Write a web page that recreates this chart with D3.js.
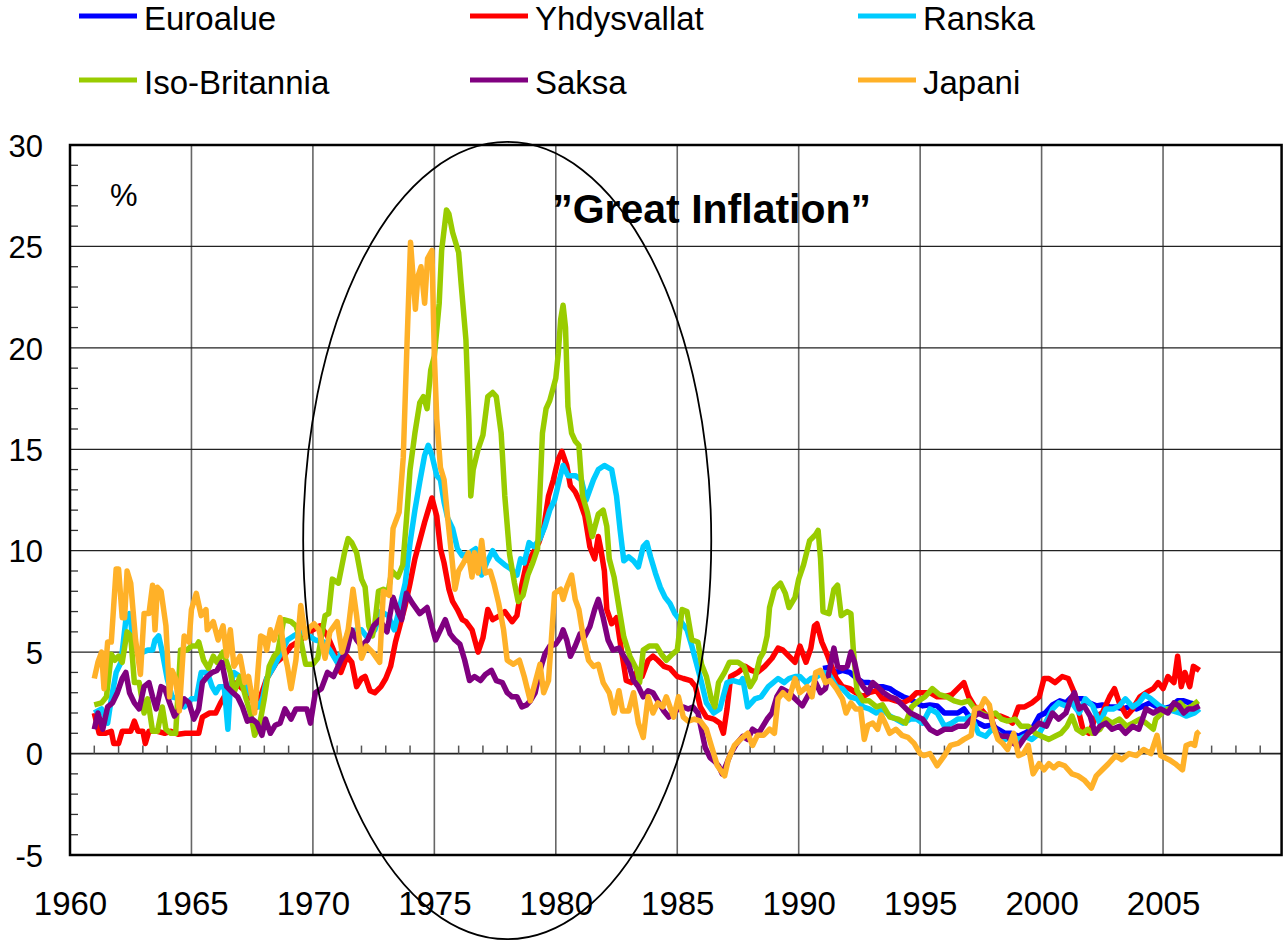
<!DOCTYPE html>
<html>
<head>
<meta charset="utf-8">
<script src="https://d3js.org/d3.v7.min.js"></script>
<style>
  body { margin: 0; background: #fff; }
  svg text { font-family: "Liberation Sans", Arial, sans-serif; fill: #000; }
</style>
</head>
<body>
<svg id="chart" width="1285" height="947"></svg>
<script>
// legend order = drawing order (last one on top)
var names = ["Euroalue", "Yhdysvallat", "Ranska", "Iso-Britannia", "Saksa", "Japani"];
var colors = ["#0000ff", "#ff0000", "#00ccff", "#99cc00", "#800080", "#ffb128"];

var xTicks = [1960, 1965, 1970, 1975, 1980, 1985, 1990, 1995, 2000, 2005];
var yTicks = [-5, 0, 5, 10, 15, 20, 25, 30];

// [year, inflation %]
var euroalue = [[1991.0,4.2],[1991.25,4.25],[1991.55,4.0],[1991.8,4.1],[1992.1,4.0],[1992.4,3.7],[1992.65,3.5],[1992.9,3.5],[1993.2,3.3],[1993.45,3.3],[1993.75,3.2],[1994.0,3.0],[1994.3,2.8],[1994.55,2.7],[1994.85,2.5],[1995.1,2.35],[1995.4,2.4],[1995.7,2.35],[1996.0,2.0],[1996.3,2.0],[1996.55,2.0],[1996.8,2.2],[1997.1,1.7],[1997.4,1.5],[1997.65,1.35],[1997.95,1.4],[1998.2,1.2],[1998.5,1.0],[1998.75,1.0],[1999.05,0.85],[1999.3,1.0],[1999.6,1.2],[1999.9,1.85],[2000.15,2.0],[2000.45,2.4],[2000.75,2.6],[2001.0,2.5],[2001.2,2.75],[2001.4,2.7],[2001.7,2.7],[2001.95,2.5],[2002.25,2.35],[2002.5,2.4],[2002.8,2.3],[2003.05,2.3],[2003.35,2.2],[2003.6,2.3],[2003.9,2.2],[2004.2,2.35],[2004.45,2.5],[2004.75,2.3],[2005.0,2.2],[2005.3,2.3],[2005.6,2.6],[2005.85,2.6],[2006.1,2.5],[2006.45,2.4]];

var yhdysvallat = [[1961.0,2.0],[1961.2,1.0],[1961.45,1.0],[1961.7,1.1],[1961.8,0.5],[1962.0,0.5],[1962.15,1.1],[1962.5,1.1],[1962.65,1.6],[1962.8,1.1],[1963.0,1.1],[1963.1,0.5],[1963.25,1.1],[1963.6,1.1],[1963.9,1.0],[1964.15,1.1],[1964.45,0.95],[1964.75,1.0],[1965.1,1.0],[1965.3,1.0],[1965.45,1.8],[1965.75,2.0],[1966.0,2.0],[1966.2,2.5],[1966.45,3.0],[1966.75,3.5],[1967.0,3.3],[1967.3,3.0],[1967.7,2.3],[1968.1,3.7],[1968.5,4.5],[1968.8,4.8],[1969.1,5.3],[1969.5,5.6],[1969.85,6.0],[1970.3,6.3],[1970.6,5.8],[1970.85,5.1],[1971.15,4.0],[1971.4,4.8],[1971.6,4.5],[1971.8,3.3],[1972.0,3.7],[1972.15,3.8],[1972.35,3.1],[1972.55,3.0],[1972.8,3.3],[1973.0,3.7],[1973.2,4.3],[1973.4,5.5],[1973.6,6.4],[1973.8,7.3],[1974.0,8.4],[1974.2,9.6],[1974.4,10.5],[1974.6,11.4],[1974.75,12.0],[1974.9,12.6],[1975.1,11.7],[1975.25,10.1],[1975.4,9.4],[1975.6,8.1],[1975.75,7.5],[1975.95,7.1],[1976.15,6.6],[1976.3,6.5],[1976.55,6.1],[1976.8,5.0],[1977.0,5.7],[1977.2,7.1],[1977.4,6.6],[1977.7,6.8],[1977.9,7.0],[1978.2,6.5],[1978.4,6.8],[1978.6,8.3],[1978.8,9.4],[1979.0,9.75],[1979.3,10.4],[1979.5,11.1],[1979.7,12.7],[1979.9,13.5],[1980.1,14.5],[1980.25,14.9],[1980.45,14.2],[1980.6,13.2],[1980.8,12.9],[1981.0,12.4],[1981.2,11.7],[1981.4,10.2],[1981.6,9.6],[1981.75,10.7],[1981.85,10.1],[1982.0,9.0],[1982.1,7.1],[1982.3,6.4],[1982.5,6.7],[1982.7,5.1],[1982.9,3.6],[1983.1,3.5],[1983.35,4.1],[1983.55,3.8],[1983.8,4.6],[1984.0,4.8],[1984.2,4.6],[1984.45,4.3],[1984.7,4.2],[1985.0,3.8],[1985.25,3.7],[1985.55,3.6],[1985.75,3.3],[1985.95,2.3],[1986.2,1.8],[1986.5,1.7],[1986.75,1.5],[1986.9,1.0],[1987.05,2.2],[1987.2,3.8],[1987.5,4.0],[1987.8,4.3],[1988.05,4.1],[1988.3,4.0],[1988.6,4.3],[1988.9,4.7],[1989.15,5.2],[1989.35,5.1],[1989.6,4.8],[1989.85,4.5],[1990.05,5.3],[1990.3,4.5],[1990.5,5.2],[1990.65,6.3],[1990.75,6.4],[1990.95,5.5],[1991.2,4.8],[1991.35,4.3],[1991.55,3.7],[1991.8,3.3],[1992.1,3.2],[1992.35,3.0],[1992.65,2.8],[1992.9,3.0],[1993.2,3.1],[1993.45,2.7],[1993.75,2.7],[1994.0,2.6],[1994.3,2.5],[1994.6,2.7],[1994.85,3.0],[1995.15,3.0],[1995.4,3.0],[1995.7,2.8],[1996.0,2.8],[1996.3,2.9],[1996.55,3.2],[1996.8,3.5],[1997.0,2.8],[1997.25,2.3],[1997.5,2.2],[1997.75,1.85],[1998.05,1.85],[1998.3,1.85],[1998.6,1.7],[1998.8,1.5],[1999.05,2.3],[1999.3,2.3],[1999.6,2.5],[1999.9,2.8],[2000.1,3.7],[2000.3,3.7],[2000.55,3.5],[2000.85,3.8],[2001.1,3.7],[2001.35,3.0],[2001.5,2.2],[2001.7,1.2],[2001.95,1.0],[2002.25,1.85],[2002.5,2.0],[2002.8,2.8],[2003.0,3.2],[2003.2,2.5],[2003.5,1.85],[2003.75,2.2],[2004.05,2.8],[2004.3,3.0],[2004.6,3.2],[2004.8,3.5],[2005.0,3.2],[2005.2,3.8],[2005.45,3.5],[2005.6,4.8],[2005.75,3.3],[2005.9,4.0],[2006.1,3.3],[2006.25,4.3],[2006.5,4.1]];

var ranska = [[1961.0,2.0],[1961.3,2.2],[1961.55,1.5],[1961.7,2.7],[1961.9,4.0],[1962.1,4.5],[1962.3,6.6],[1962.45,6.9],[1962.6,5.6],[1962.8,5.0],[1963.0,5.0],[1963.2,5.1],[1963.4,5.1],[1963.5,5.6],[1963.65,5.8],[1963.8,5.0],[1964.0,3.7],[1964.2,2.8],[1964.5,2.7],[1964.7,2.3],[1965.0,2.7],[1965.2,2.7],[1965.4,4.0],[1965.65,4.0],[1965.85,3.3],[1966.0,3.0],[1966.15,3.3],[1966.35,3.3],[1966.5,1.2],[1966.6,3.3],[1966.75,4.0],[1967.0,3.8],[1967.25,3.3],[1967.5,2.8],[1967.8,2.3],[1967.95,2.8],[1968.1,3.7],[1968.4,4.3],[1968.7,5.0],[1968.95,5.6],[1969.2,5.8],[1969.5,6.0],[1969.85,5.8],[1970.1,5.6],[1970.45,5.5],[1970.7,5.1],[1971.0,4.5],[1971.25,5.2],[1971.45,6.0],[1971.8,6.1],[1972.0,6.1],[1972.25,5.7],[1972.55,6.1],[1972.8,7.0],[1973.1,6.8],[1973.35,6.1],[1973.55,7.1],[1973.8,8.4],[1974.0,10.4],[1974.2,12.0],[1974.4,13.4],[1974.6,14.7],[1974.75,15.2],[1974.9,14.7],[1975.1,13.7],[1975.25,13.5],[1975.4,12.4],[1975.55,11.6],[1975.75,11.1],[1975.95,10.1],[1976.15,9.75],[1976.45,9.9],[1976.7,10.1],[1976.95,8.8],[1977.15,9.4],[1977.4,10.0],[1977.6,9.6],[1977.9,9.3],[1978.15,9.1],[1978.4,8.8],[1978.55,9.6],[1978.7,9.4],[1978.9,10.4],[1979.1,10.2],[1979.35,10.6],[1979.55,11.2],[1979.75,12.0],[1979.95,12.5],[1980.15,13.5],[1980.3,14.2],[1980.5,13.7],[1980.8,13.7],[1981.05,13.5],[1981.25,12.5],[1981.55,13.5],[1981.75,14.0],[1982.0,14.2],[1982.3,14.0],[1982.5,12.7],[1982.65,11.0],[1982.8,9.5],[1983.0,9.7],[1983.2,9.5],[1983.4,9.2],[1983.6,10.2],[1983.75,10.4],[1983.9,9.7],[1984.1,8.9],[1984.3,8.2],[1984.5,7.7],[1984.7,7.4],[1984.9,6.9],[1985.1,6.6],[1985.4,6.1],[1985.6,5.3],[1985.8,4.4],[1986.0,3.5],[1986.2,2.5],[1986.5,2.0],[1986.75,2.2],[1987.05,3.5],[1987.3,3.6],[1987.6,3.5],[1987.7,3.7],[1987.9,2.3],[1988.2,2.7],[1988.45,2.8],[1988.75,3.3],[1988.95,3.5],[1989.15,3.7],[1989.4,3.5],[1989.6,3.7],[1989.85,3.8],[1990.05,3.8],[1990.3,3.5],[1990.5,3.7],[1990.7,3.75],[1991.0,4.0],[1991.25,3.9],[1991.55,3.3],[1991.8,3.2],[1992.1,2.8],[1992.4,2.7],[1992.65,2.3],[1992.9,2.2],[1993.2,2.0],[1993.45,2.2],[1993.75,1.85],[1994.0,1.7],[1994.3,1.5],[1994.6,1.7],[1994.85,1.7],[1995.1,1.5],[1995.4,2.2],[1995.7,2.0],[1996.0,1.35],[1996.3,1.5],[1996.55,1.7],[1996.85,1.7],[1997.1,1.85],[1997.4,1.0],[1997.7,0.85],[1997.95,1.2],[1998.2,1.0],[1998.5,0.7],[1998.8,0.85],[1999.05,0.7],[1999.3,0.85],[1999.6,0.7],[1999.9,1.0],[2000.15,1.5],[2000.45,2.2],[2000.7,2.5],[2001.0,2.35],[2001.25,2.5],[2001.55,2.0],[2001.8,2.7],[2002.1,2.35],[2002.4,1.5],[2002.65,2.2],[2002.95,2.2],[2003.2,2.35],[2003.45,2.7],[2003.75,2.3],[2004.0,2.5],[2004.25,2.9],[2004.5,2.7],[2004.85,2.35],[2005.15,2.2],[2005.4,2.1],[2005.7,2.0],[2005.95,1.85],[2006.3,2.0],[2006.5,2.2]];

var isoBritannia = [[1961.0,2.4],[1961.3,2.5],[1961.5,2.8],[1961.7,4.9],[1961.85,4.6],[1962.0,4.8],[1962.15,4.5],[1962.35,6.0],[1962.5,5.8],[1962.65,3.5],[1962.85,3.5],[1963.05,2.0],[1963.2,2.7],[1963.4,1.1],[1963.6,1.1],[1963.8,2.3],[1963.95,1.2],[1964.15,1.0],[1964.35,1.0],[1964.55,5.1],[1964.8,5.1],[1965.0,5.3],[1965.2,5.3],[1965.3,5.5],[1965.5,4.6],[1965.7,4.2],[1965.9,4.8],[1966.05,4.5],[1966.3,5.0],[1966.6,4.0],[1966.75,3.0],[1967.0,3.8],[1967.25,2.7],[1967.45,1.9],[1967.6,0.9],[1967.8,1.4],[1968.0,2.7],[1968.2,4.3],[1968.4,4.8],[1968.55,5.0],[1968.8,6.6],[1969.1,6.5],[1969.3,6.3],[1969.5,5.6],[1969.7,4.4],[1970.0,4.4],[1970.2,4.7],[1970.5,6.8],[1970.65,6.9],[1970.8,8.6],[1971.05,8.4],[1971.3,9.9],[1971.45,10.6],[1971.6,10.4],[1971.8,9.9],[1972.0,8.6],[1972.15,8.2],[1972.3,6.3],[1972.45,5.8],[1972.55,6.4],[1972.7,8.0],[1972.9,8.1],[1973.1,8.0],[1973.25,9.0],[1973.5,8.7],[1973.7,9.3],[1973.85,11.5],[1974.0,14.0],[1974.2,15.8],[1974.4,17.3],[1974.55,17.6],[1974.7,17.0],[1974.85,18.9],[1975.0,19.6],[1975.2,22.2],[1975.3,24.8],[1975.5,26.8],[1975.6,26.6],[1975.75,25.7],[1976.0,24.7],[1976.1,23.2],[1976.3,20.4],[1976.42,16.5],[1976.5,12.7],[1976.6,14.0],[1976.8,15.0],[1977.0,15.7],[1977.2,17.6],[1977.4,17.8],[1977.55,17.6],[1977.75,15.8],[1977.9,12.7],[1978.1,9.8],[1978.3,8.4],[1978.45,7.5],[1978.65,7.8],[1978.85,8.8],[1979.05,9.4],[1979.25,10.1],[1979.45,15.8],[1979.6,17.0],[1979.75,17.4],[1980.0,18.5],[1980.1,19.7],[1980.2,21.4],[1980.3,22.1],[1980.4,21.0],[1980.5,17.1],[1980.65,15.8],[1980.8,15.4],[1980.95,15.2],[1981.1,12.7],[1981.3,11.9],[1981.5,10.7],[1981.75,11.8],[1981.95,12.0],[1982.1,11.2],[1982.2,9.6],[1982.4,8.7],[1982.6,7.2],[1982.8,5.75],[1983.05,4.8],[1983.35,4.1],[1983.45,3.5],[1983.6,5.1],[1983.85,5.3],[1984.15,5.3],[1984.35,4.9],[1984.55,4.6],[1984.8,4.9],[1985.0,5.1],[1985.2,7.1],[1985.4,7.0],[1985.6,5.6],[1985.85,5.5],[1986.0,4.4],[1986.2,3.8],[1986.4,2.7],[1986.55,2.3],[1986.7,3.5],[1986.95,4.0],[1987.15,4.5],[1987.5,4.5],[1987.75,4.3],[1988.0,3.3],[1988.2,3.7],[1988.4,4.7],[1988.55,5.0],[1988.7,5.8],[1988.8,7.2],[1989.0,8.1],[1989.25,8.4],[1989.45,7.9],[1989.6,7.2],[1989.85,7.7],[1990.0,8.6],[1990.2,9.3],[1990.45,10.5],[1990.7,10.8],[1990.8,11.0],[1990.9,9.6],[1991.0,7.0],[1991.25,6.9],[1991.45,8.1],[1991.6,8.3],[1991.75,6.8],[1992.0,7.0],[1992.15,6.9],[1992.25,5.1],[1992.4,3.1],[1992.65,2.6],[1992.9,2.6],[1993.2,2.3],[1993.45,2.4],[1993.75,1.8],[1994.1,1.7],[1994.4,1.5],[1994.65,2.3],[1994.95,2.6],[1995.2,2.8],[1995.5,3.2],[1995.8,2.9],[1996.1,2.8],[1996.4,2.6],[1996.7,2.5],[1997.0,2.6],[1997.25,2.2],[1997.5,2.0],[1997.8,1.85],[1998.1,2.0],[1998.35,1.7],[1998.6,1.6],[1998.9,1.7],[1999.15,1.35],[1999.45,1.35],[1999.75,1.0],[2000.0,0.85],[2000.3,0.7],[2000.55,0.85],[2000.8,1.0],[2001.05,1.35],[2001.25,1.85],[2001.45,1.2],[2001.7,1.0],[2001.9,1.2],[2002.1,1.0],[2002.4,1.2],[2002.65,1.7],[2002.9,1.5],[2003.2,1.7],[2003.5,1.35],[2003.75,1.5],[2004.05,1.7],[2004.3,1.5],[2004.6,1.2],[2004.7,1.7],[2004.95,2.0],[2005.2,2.2],[2005.45,2.2],[2005.7,2.5],[2005.95,2.2],[2006.2,2.35],[2006.45,2.6]];

var saksa = [[1961.0,1.2],[1961.15,2.0],[1961.35,1.2],[1961.55,2.3],[1961.75,2.5],[1961.95,3.0],[1962.15,3.7],[1962.3,4.0],[1962.45,3.0],[1962.65,2.5],[1962.85,2.2],[1963.05,3.3],[1963.25,3.5],[1963.4,2.8],[1963.55,2.2],[1963.75,3.3],[1963.9,3.2],[1964.1,2.5],[1964.3,1.85],[1964.5,2.2],[1964.7,2.7],[1964.9,2.5],[1965.1,1.7],[1965.3,2.2],[1965.45,3.5],[1965.65,3.8],[1965.85,4.0],[1966.05,4.1],[1966.25,4.5],[1966.45,3.3],[1966.7,3.0],[1966.9,2.8],[1967.1,2.3],[1967.3,1.6],[1967.5,1.7],[1967.7,1.5],[1967.9,0.9],[1968.05,1.7],[1968.25,1.0],[1968.45,1.4],[1968.65,1.5],[1968.85,2.2],[1969.1,1.7],[1969.3,2.2],[1969.55,2.2],[1969.75,2.2],[1969.9,1.5],[1970.1,3.0],[1970.35,3.2],[1970.6,4.0],[1970.85,3.8],[1971.15,4.6],[1971.4,5.1],[1971.6,6.1],[1971.8,5.6],[1972.0,5.3],[1972.25,5.6],[1972.5,6.3],[1972.75,6.6],[1973.05,6.0],[1973.3,7.7],[1973.5,7.0],[1973.65,6.6],[1973.85,7.9],[1974.1,7.4],[1974.4,6.9],[1974.7,7.2],[1974.9,6.25],[1975.05,5.6],[1975.25,6.1],[1975.45,6.6],[1975.65,5.9],[1975.85,5.6],[1976.05,5.4],[1976.25,4.6],[1976.45,3.6],[1976.65,3.8],[1976.9,3.6],[1977.1,3.9],[1977.35,4.1],[1977.55,3.6],[1977.8,3.5],[1978.0,3.0],[1978.2,2.8],[1978.4,2.8],[1978.6,2.3],[1978.8,2.4],[1978.95,2.6],[1979.15,3.0],[1979.35,4.1],[1979.55,4.9],[1979.75,5.3],[1980.0,5.4],[1980.2,5.75],[1980.3,6.1],[1980.45,5.6],[1980.6,4.8],[1980.8,5.3],[1981.0,5.9],[1981.2,5.8],[1981.4,6.25],[1981.6,7.1],[1981.75,7.6],[1981.95,6.7],[1982.15,5.6],[1982.35,5.1],[1982.6,5.2],[1982.8,4.8],[1983.0,4.4],[1983.2,3.6],[1983.4,3.3],[1983.6,2.8],[1983.8,3.1],[1984.0,3.0],[1984.2,2.6],[1984.45,2.1],[1984.65,1.8],[1984.85,2.0],[1985.05,2.2],[1985.25,2.3],[1985.45,2.2],[1985.65,2.3],[1985.85,2.0],[1986.0,1.15],[1986.15,0.3],[1986.35,-0.2],[1986.55,-0.4],[1986.7,-0.6],[1986.85,-1.0],[1987.0,-0.6],[1987.2,0.0],[1987.45,0.5],[1987.7,0.85],[1987.9,0.7],[1988.1,1.2],[1988.35,1.0],[1988.7,1.7],[1988.9,2.0],[1989.1,2.8],[1989.3,3.2],[1989.6,3.0],[1989.85,2.7],[1990.15,2.35],[1990.45,3.0],[1990.7,3.5],[1990.9,3.0],[1991.1,3.2],[1991.3,4.3],[1991.45,5.2],[1991.6,4.3],[1991.8,4.2],[1992.0,4.3],[1992.15,5.0],[1992.3,4.5],[1992.45,3.7],[1992.65,3.3],[1992.85,3.0],[1993.05,3.5],[1993.25,3.3],[1993.5,3.0],[1993.75,2.8],[1994.0,2.7],[1994.3,2.35],[1994.6,2.0],[1994.85,1.85],[1995.1,1.7],[1995.4,1.2],[1995.7,1.0],[1996.0,1.2],[1996.3,1.2],[1996.55,1.35],[1996.85,1.35],[1997.1,1.7],[1997.4,2.0],[1997.65,1.85],[1997.9,1.8],[1998.15,1.0],[1998.35,0.85],[1998.6,0.85],[1998.85,0.5],[1999.05,0.35],[1999.25,0.7],[1999.45,1.0],[1999.65,1.2],[1999.9,1.5],[2000.2,1.35],[2000.45,2.0],[2000.7,1.7],[2001.0,2.0],[2001.2,2.7],[2001.35,3.0],[2001.55,2.2],[2001.75,2.35],[2002.0,1.85],[2002.2,1.0],[2002.4,1.35],[2002.65,1.5],[2002.9,1.2],[2003.2,1.35],[2003.45,1.0],[2003.75,1.35],[2004.0,1.2],[2004.3,2.2],[2004.6,2.0],[2004.9,2.2],[2005.2,2.0],[2005.45,2.5],[2005.65,2.35],[2005.85,2.0],[2006.05,2.2],[2006.25,2.2],[2006.5,2.35]];

var japani = [[1961.0,3.7],[1961.15,4.5],[1961.3,5.0],[1961.4,3.2],[1961.55,5.5],[1961.7,5.5],[1961.9,9.1],[1962.0,9.1],[1962.15,6.7],[1962.25,6.7],[1962.35,9.0],[1962.5,8.4],[1962.7,5.6],[1962.9,3.9],[1963.05,6.9],[1963.25,6.9],[1963.4,8.3],[1963.5,6.1],[1963.6,8.2],[1963.75,8.0],[1963.95,6.3],[1964.1,2.8],[1964.2,4.1],[1964.35,3.7],[1964.5,2.1],[1964.7,5.8],[1964.9,5.5],[1965.0,7.1],[1965.2,7.9],[1965.4,6.8],[1965.6,7.1],[1965.65,6.1],[1965.9,6.5],[1966.1,5.6],[1966.3,6.3],[1966.45,4.8],[1966.6,6.1],[1966.75,4.3],[1967.0,4.8],[1967.2,3.5],[1967.35,3.8],[1967.6,2.0],[1967.85,5.8],[1968.0,5.7],[1968.1,5.1],[1968.25,6.1],[1968.4,5.6],[1968.65,6.7],[1968.8,5.1],[1968.95,4.3],[1969.1,3.2],[1969.3,4.6],[1969.5,7.3],[1969.7,5.7],[1969.85,6.2],[1970.05,6.4],[1970.25,6.1],[1970.5,4.7],[1970.7,6.0],[1971.0,6.5],[1971.2,5.0],[1971.45,6.1],[1971.65,8.1],[1971.8,6.8],[1972.0,4.7],[1972.2,5.3],[1972.45,5.0],[1972.75,4.5],[1972.9,8.0],[1973.15,7.8],[1973.3,11.1],[1973.55,11.9],[1973.72,14.6],[1973.88,20.4],[1974.02,25.2],[1974.22,21.9],[1974.32,23.5],[1974.45,24.0],[1974.6,22.2],[1974.72,24.4],[1974.9,24.8],[1975.0,19.6],[1975.1,16.5],[1975.25,14.1],[1975.4,13.5],[1975.55,11.6],[1975.7,9.9],[1975.85,8.1],[1976.0,9.0],[1976.2,9.4],[1976.4,9.9],[1976.55,8.7],[1976.65,9.9],[1976.8,8.9],[1976.95,10.5],[1977.1,8.9],[1977.3,9.0],[1977.45,8.4],[1977.65,7.4],[1977.85,6.1],[1978.0,4.6],[1978.25,4.4],[1978.5,4.6],[1978.7,3.8],[1978.95,2.6],[1979.15,3.5],[1979.35,4.4],[1979.5,3.0],[1979.7,3.6],[1979.95,7.9],[1980.2,8.1],[1980.3,7.6],[1980.45,8.2],[1980.65,8.8],[1980.8,7.6],[1980.95,7.1],[1981.15,5.6],[1981.35,4.6],[1981.55,4.3],[1981.75,4.4],[1981.95,3.5],[1982.2,3.0],[1982.4,2.0],[1982.6,3.1],[1982.75,2.1],[1983.0,2.1],[1983.2,3.0],[1983.4,1.5],[1983.6,0.8],[1983.8,2.8],[1984.0,2.0],[1984.2,2.5],[1984.4,2.3],[1984.55,2.8],[1984.85,1.8],[1985.05,2.8],[1985.25,1.8],[1985.45,1.6],[1985.7,1.7],[1985.95,1.6],[1986.2,1.2],[1986.4,0.4],[1986.65,-0.6],[1986.95,-1.1],[1987.1,-0.3],[1987.35,0.4],[1987.6,0.7],[1987.9,1.0],[1988.1,0.4],[1988.3,0.9],[1988.55,0.9],[1988.8,1.2],[1989.0,1.0],[1989.15,2.7],[1989.35,3.0],[1989.6,2.7],[1989.85,3.7],[1990.05,3.0],[1990.35,3.3],[1990.55,2.8],[1990.7,4.0],[1990.9,4.1],[1991.1,3.5],[1991.3,3.6],[1991.55,3.2],[1991.8,2.7],[1991.95,2.0],[1992.15,2.5],[1992.35,2.2],[1992.55,2.2],[1992.7,0.7],[1992.85,1.4],[1993.05,1.5],[1993.25,1.2],[1993.4,1.9],[1993.6,1.4],[1993.75,1.0],[1994.0,1.2],[1994.25,0.9],[1994.5,0.8],[1994.75,0.5],[1995.0,0.0],[1995.15,-0.1],[1995.4,0.0],[1995.7,-0.6],[1996.0,-0.1],[1996.25,0.4],[1996.55,0.5],[1996.8,0.7],[1997.1,0.9],[1997.25,2.2],[1997.5,2.3],[1997.65,2.7],[1997.85,2.4],[1998.0,1.4],[1998.2,0.7],[1998.4,0.5],[1998.6,0.2],[1998.85,1.0],[1999.05,-0.1],[1999.25,0.0],[1999.45,0.4],[1999.65,-1.0],[1999.9,-0.5],[2000.1,-0.8],[2000.3,-0.5],[2000.5,-0.7],[2000.7,-0.5],[2000.95,-0.6],[2001.25,-1.0],[2001.5,-1.1],[2001.75,-1.3],[2002.05,-1.7],[2002.25,-1.1],[2002.5,-0.8],[2002.75,-0.5],[2003.05,-0.1],[2003.3,-0.3],[2003.6,0.0],[2003.9,-0.1],[2004.2,0.2],[2004.5,0.0],[2004.75,0.9],[2004.9,-0.1],[2005.25,-0.3],[2005.5,-0.5],[2005.8,-0.8],[2005.95,0.4],[2006.15,0.5],[2006.3,0.4],[2006.4,1.0],[2006.5,1.1]];

var series = [euroalue, yhdysvallat, ranska, isoBritannia, saksa, japani];

var svg = d3.select("#chart");
var font = '"Liberation Sans", Arial, sans-serif';

var xMax = 2009.88;

var x = d3.scaleLinear().domain([1960, 2010]).range([70, 1284.5]);
var y = d3.scaleLinear().domain([-5, 30]).range([855, 145]);

var plotRight = x(xMax);

// grid
var grid = svg.append("g");
grid.selectAll(".vgrid").data(xTicks.slice(1)).enter().append("line")
    .attr("x1", function(d) { return x(d); }).attr("x2", function(d) { return x(d); })
    .attr("y1", y(30)).attr("y2", y(-5))
    .attr("stroke", "#666").attr("stroke-width", 1.6);
grid.selectAll(".hgrid").data(yTicks.slice(1, -1)).enter().append("line")
    .attr("x1", x(1960)).attr("x2", plotRight)
    .attr("y1", function(d) { return y(d); }).attr("y2", function(d) { return y(d); })
    .attr("stroke", "#222").attr("stroke-width", function(d) { return d == 0 ? 1.8 : 1.2; });

// minor ticks: y every 1 (inward from left), x every year (upward from zero line)
var yMinor = d3.range(-5, 31).filter(function(d) { return d % 5 != 0; });
grid.selectAll(".ym").data(yMinor).enter().append("line")
    .attr("x1", x(1960)).attr("x2", x(1960) + 8)
    .attr("y1", function(d) { return y(d); }).attr("y2", function(d) { return y(d); })
    .attr("stroke", "#333").attr("stroke-width", 1.3);
var xMinor = d3.range(1961, 2010).filter(function(d) { return d % 5 != 0; });
grid.selectAll(".xm").data(xMinor).enter().append("line")
    .attr("x1", function(d) { return x(d); }).attr("x2", function(d) { return x(d); })
    .attr("y1", y(0)).attr("y2", y(0) - 8)
    .attr("stroke", "#555").attr("stroke-width", 1.5);

// lines
var line = d3.line()
    .x(function(d) { return x(d[0]); })
    .y(function(d) { return y(d[1]); });

svg.append("g").selectAll("path").data(series).enter().append("path")
    .attr("d", line)
    .attr("fill", "none")
    .attr("stroke", function(d, i) { return colors[i]; })
    .attr("stroke-width", 5.5)
    .attr("stroke-linejoin", "round");

// frame
svg.append("rect")
    .attr("x", x(1960)).attr("y", y(30))
    .attr("width", plotRight - x(1960)).attr("height", y(-5) - y(30))
    .attr("fill", "none").attr("stroke", "#000").attr("stroke-width", 2.5);

// axis labels (plain hyphen for negatives, like the original)
var xAxis = svg.append("g")
    .attr("transform", "translate(0," + y(-5) + ")")
    .call(d3.axisBottom(x).tickValues(xTicks).tickFormat(function(d) { return String(d); }).tickSize(0).tickPadding(37));
var yAxis = svg.append("g")
    .attr("transform", "translate(" + x(1960) + ",0)")
    .call(d3.axisLeft(y).tickValues(yTicks).tickFormat(function(d) { return String(d); }).tickSize(0).tickPadding(27));
[xAxis, yAxis].forEach(function(a) {
  a.select(".domain").remove();
  a.selectAll("text").attr("fill", "#000").style("font-family", font);
});
xAxis.selectAll("text").style("font-size", "33px");
yAxis.selectAll("text").style("font-size", "31px").attr("dy", "0.36em");

// annotations
svg.append("text").attr("x", 110).attr("y", 206)
    .style("font-size", "31px").text("%");

svg.append("ellipse")
    .attr("cx", x(1978)).attr("cy", y(10.5))
    .attr("rx", x(1978) - x(1969.6)).attr("ry", y(-9.15) - y(10.5))
    .attr("fill", "none").attr("stroke", "#000").attr("stroke-width", 1.8);

svg.append("text").attr("x", x(1979.85)).attr("y", y(26.15))
    .style("font-size", "41px").style("font-weight", "bold")
    .text("\u201DGreat Inflation\u201D");

// legend, 3 columns x 2 rows
var legend = svg.append("g").selectAll("g").data(names).enter().append("g")
    .attr("transform", function(d, i) {
      return "translate(" + [79, 470, 858][i % 3] + "," + (16 + Math.floor(i / 3) * 64) + ")";
    });
legend.append("line").attr("x1", 0).attr("x2", 58)
    .attr("stroke", function(d, i) { return colors[i]; }).attr("stroke-width", 5);
legend.append("text").attr("x", 65).attr("y", 13.5)
    .style("font-size", "33px").text(function(d) { return d; });
</script>
</body>
</html>
